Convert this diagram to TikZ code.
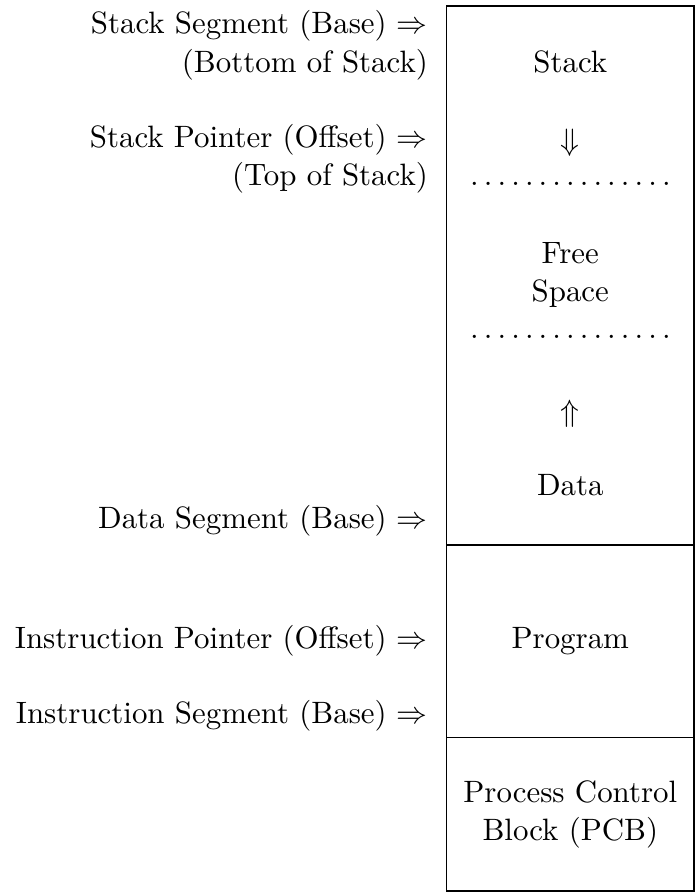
\documentclass[tikz,border=0pt]{standalone}
\usepackage{amsmath}
\usetikzlibrary{calc}
\tikzset{
    pointer/.style={anchor=base east, inner sep=0pt},
    segtext/.style={anchor=base, inner sep=0pt},
    dotmark/.style={anchor=base, inner sep=0pt},
    memline/.style={line width=0.4pt},
}
\newcommand{\Canvas}{
\useasboundingbox (0,0) rectangle (698,892);
\coordinate (box-nw) at (446.7,6);
\coordinate (box-se) at (694,891);
\coordinate (data-west) at (446.7,545);
\coordinate (data-east) at (694,545);
\coordinate (prog-west) at (446.7,737.7);
\coordinate (prog-east) at (694,737.7);
}

\begin{document}
\begin{tikzpicture}[x=0.3236pt, y=-0.3236pt]
\Canvas
\draw[memline] (box-nw) rectangle (box-se);
\draw[memline] (data-west) -- (data-east);
\draw[memline] (prog-west) -- (prog-east);

% left column
\node[pointer] (stack-seg) at (428.5,33) {Stack Segment (Base) $\Rightarrow$};
\node[pointer] (stack-bottom) at (428.5,72) {(Bottom of Stack)};
\node[pointer] (stack-ptr) at (428.5,147) {Stack Pointer (Offset) $\Rightarrow$};
\node[pointer] (stack-top) at (428.5,185) {(Top of Stack)};
\node[pointer] (data-seg) at (428.5,528) {Data Segment (Base) $\Rightarrow$};
\node[pointer] (instr-ptr) at (428.5,648) {Instruction Pointer (Offset) $\Rightarrow$};
\node[pointer] (instr-seg) at (428.5,723) {Instruction Segment (Base) $\Rightarrow$};

% memory column
\node[segtext] (stack) at (570.3,72) {Stack};
\node[segtext] (stack-grow) at (570.3,150) {$\Downarrow$};
\foreach \i in {0,...,14} {
    \node[dotmark] (upper-dot-\i) at ({474.5+13.7*\i},185) {.};
    \node[dotmark] (lower-dot-\i) at ({474.5+13.7*\i},338) {.};
}
\node[segtext] (free) at (570.3,263) {Free};
\node[segtext] (space) at (570.3,301) {Space};
\node[segtext] (data-grow) at (570.3,421) {$\Uparrow$};
\node[segtext] (data) at (570.3,495) {Data};
\node[segtext] (program) at (570.3,648) {Program};
\node[segtext] (pcb-a) at (570.3,802) {Process Control};
\node[segtext] (pcb-b) at (570.3,840) {Block (PCB)};
\end{tikzpicture}
\end{document}
